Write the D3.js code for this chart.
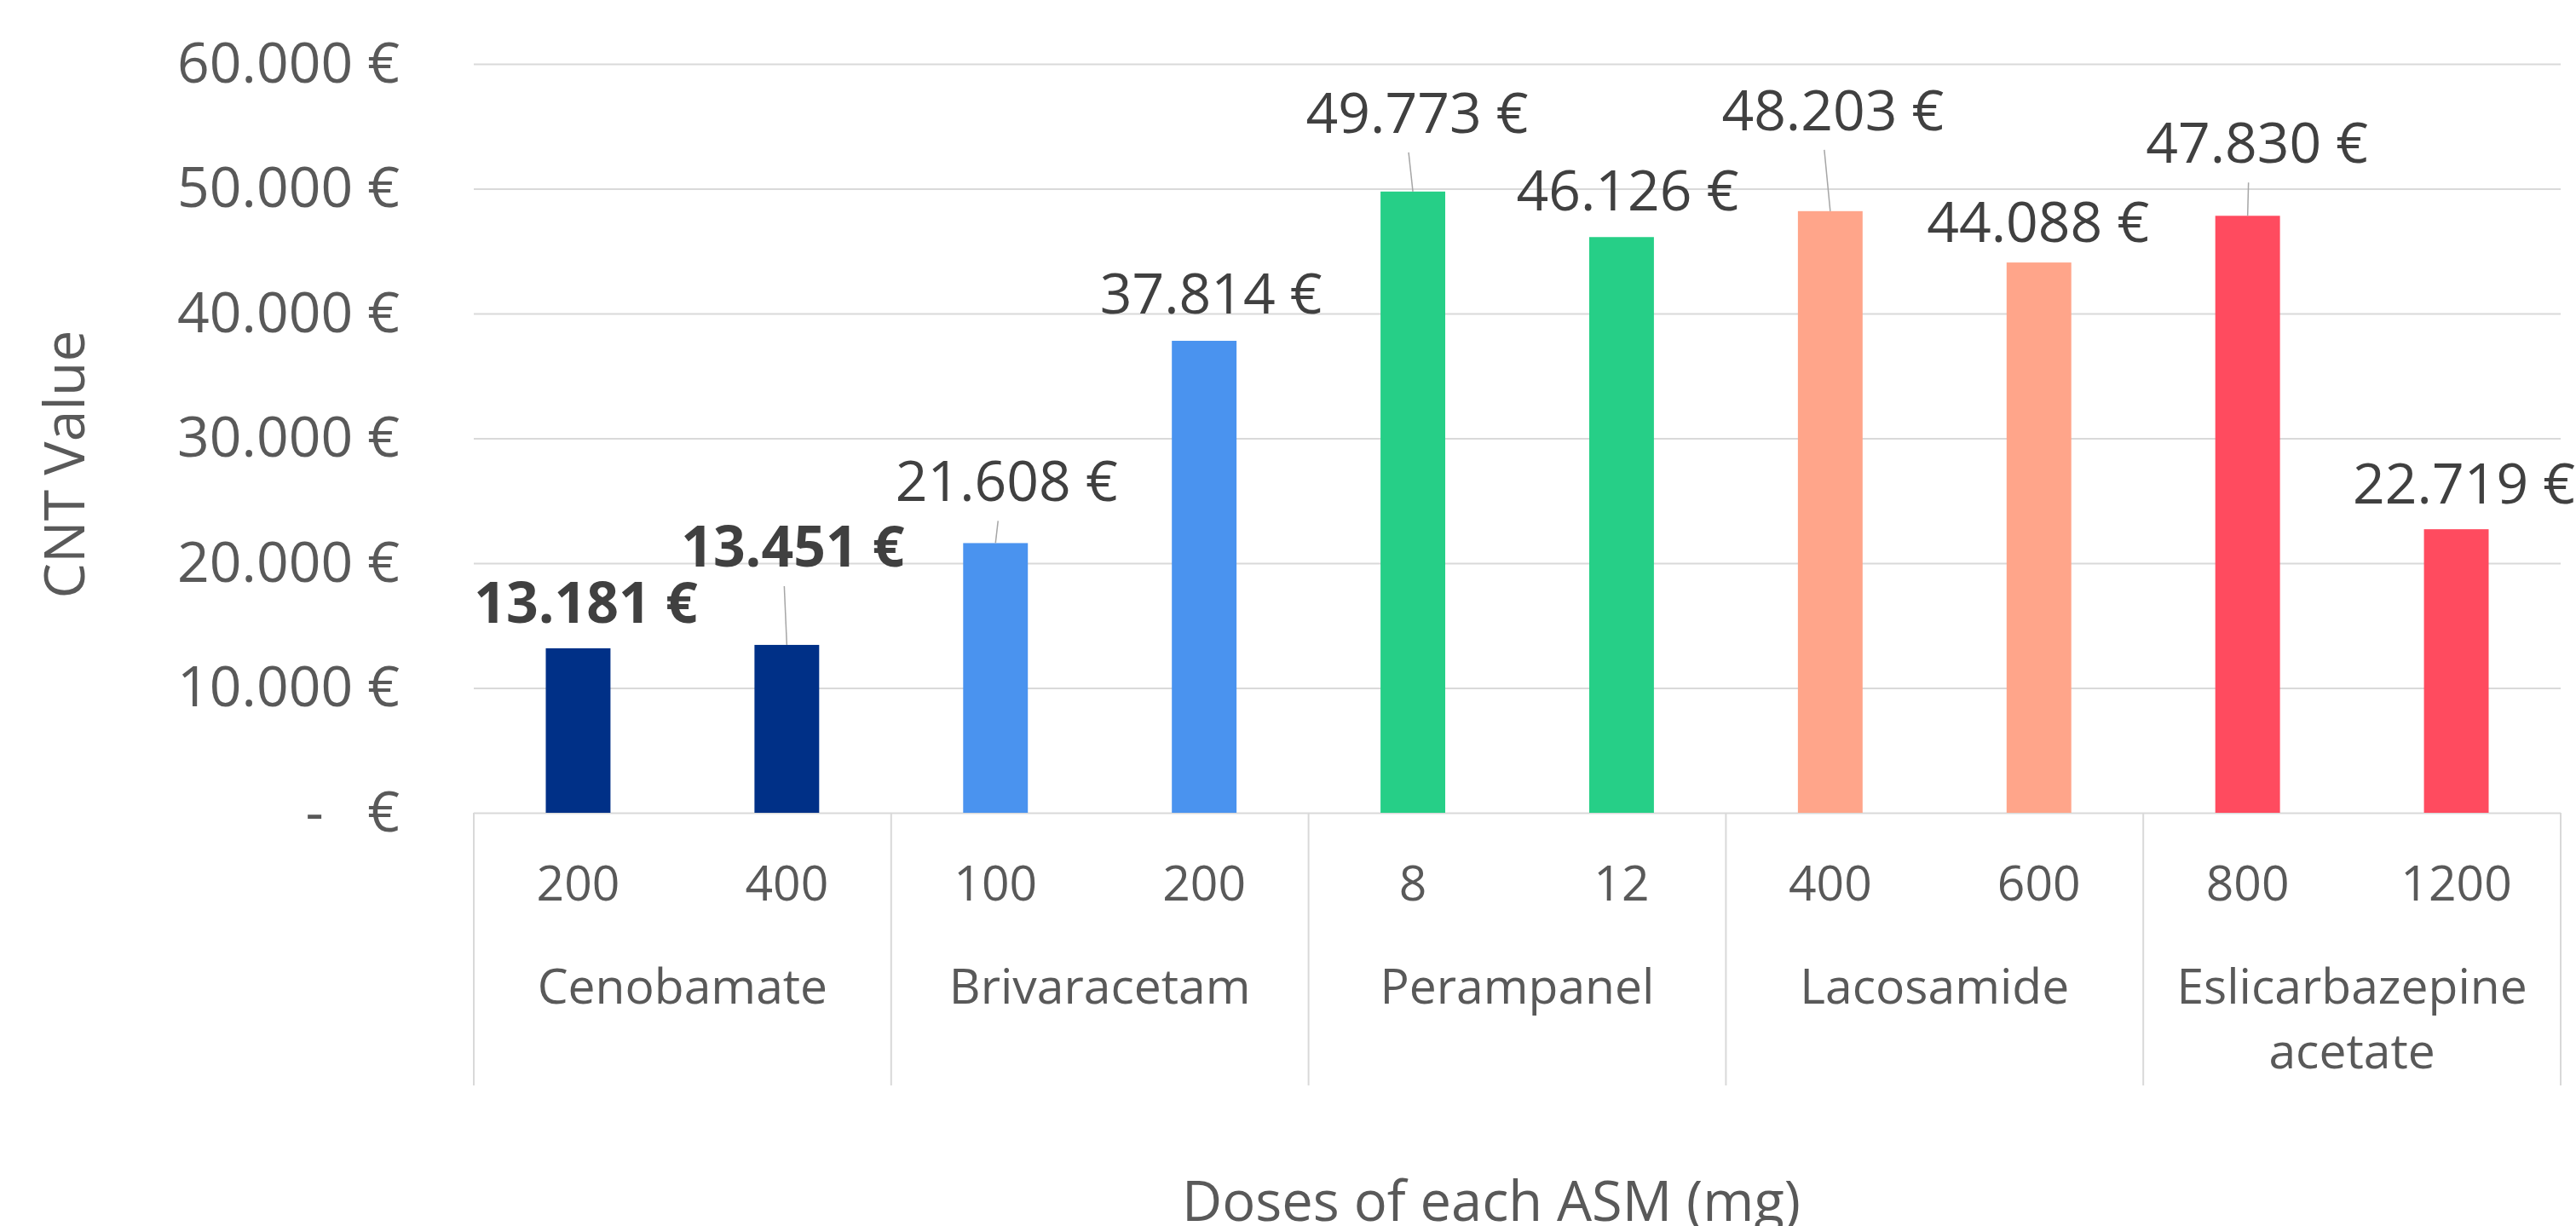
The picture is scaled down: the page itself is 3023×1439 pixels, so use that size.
<!DOCTYPE html>
<html>
<head>
<meta charset="utf-8">
<script src="https://cdn.jsdelivr.net/npm/d3@7"></script>
<style>
  body { margin: 0; background: #fff; }
  text { font-family: "Open Sans", sans-serif; }
</style>
</head>
<body>
<div id="chartContainer"></div>
<script>
// data
const drugs = ["Cenobamate", "Brivaracetam", "Perampanel", "Lacosamide", "Eslicarbazepine acetate"];
const doses = [["200", "400"], ["100", "200"], ["8", "12"], ["400", "600"], ["800", "1200"]];
const costs = [[13181, 13451], [21608, 37814], [49773, 46126], [48203, 44088], [47830, 22719]];
const yTicks = [0, 10000, 20000, 30000, 40000, 50000, 60000];

const drugColors = ["#003087", "#4A93EF", "#26CF87", "#FFA58A", "#FF4B5F"];

// labels that were dragged by hand in the original (dx, dy from default spot)
const labelShift = [[2, 0], [0, -62], [6, -19], [1, -2], [-2, -39], [0, -1], [-4, -65], [-8, 6], [4, -32], [2, 0]];

const width = 3023,
  height = 1439,
  margin = { left: 556, right: 18, top: 75, bottom: 485 };

const plotW = width - margin.left - margin.right,
  plotH = height - margin.top - margin.bottom;

// flatten into one row per bar
const bars = [];
drugs.forEach((drug, i) => {
  doses[i].forEach((dose, j) => {
    bars.push({ key: i + "-" + j, drug: drug, drugIndex: i, dose: dose, cost: costs[i][j] });
  });
});

const euro = d3.formatLocale({
  decimal: ",",
  thousands: ".",
  grouping: [3],
  currency: ["", " €"],
});
const fmtEuro = euro.format("$,.0f");

const x = d3
  .scaleBand()
  .domain(bars.map((d) => d.key))
  .range([0, plotW])
  .paddingInner(0.69)
  .paddingOuter(0.345);

const y = d3.scaleLinear().domain([0, 60000]).range([plotH, 0]);

const svg = d3
  .select("#chartContainer")
  .append("svg")
  .attr("width", width)
  .attr("height", height);

const g = svg.append("g").attr("transform", `translate(${margin.left},${margin.top})`);

// gridlines
g.append("g")
  .attr("class", "grid")
  .call(d3.axisLeft(y).tickValues(yTicks).tickSize(-plotW).tickFormat(""))
  .call((s) => s.select(".domain").remove())
  .call((s) => s.selectAll("line").attr("stroke", "#d9d9d9").attr("stroke-width", 2));

// y tick labels
g.append("g")
  .call(
    d3
      .axisLeft(y)
      .tickValues(yTicks)
      .tickSize(0)
      .tickPadding(87)
      .tickFormat((d) => (d === 0 ? "-   €" : fmtEuro(d)))
  )
  .call((s) => s.select(".domain").remove())
  .call((s) =>
    s
      .selectAll("text")
      .attr("font-size", 66)
      .attr("fill", "#595959")
      .style("font-family", '"Open Sans", sans-serif')
      .style("white-space", "pre")
  );

// bars
g.selectAll(".bar")
  .data(bars)
  .enter()
  .append("rect")
  .attr("class", "bar")
  .attr("x", (d) => x(d.key))
  .attr("width", x.bandwidth())
  .attr("y", (d) => y(d.cost))
  .attr("height", (d) => plotH - y(d.cost))
  .attr("fill", (d) => drugColors[d.drugIndex]);

// value labels + leader lines for the moved ones
const cx = (d) => x(d.key) + x.bandwidth() / 2;

bars.forEach((d, i) => {
  const lx = cx(d) + 7 + labelShift[i][0];
  const ly = y(d.cost) - 30 + labelShift[i][1];

  if (labelShift[i][1] < -10) {
    g.append("line")
      .attr("x1", lx - 10)
      .attr("y1", ly + 23)
      .attr("x2", cx(d))
      .attr("y2", y(d.cost))
      .attr("stroke", "#a6a6a6")
      .attr("stroke-width", 1.5);
  }

  g.append("text")
    .attr("x", lx)
    .attr("y", ly)
    .attr("text-anchor", "middle")
    .attr("font-size", 66)
    .attr("font-weight", d.drugIndex === 0 ? 700 : 400)
    .attr("fill", "#404040")
    .text(fmtEuro(d.cost));
});

// x axis: dose row and drug row, with separators
const axisG = g.append("g").attr("transform", `translate(0,${plotH})`);

const groupW = plotW / drugs.length;

d3.range(drugs.length + 1).forEach((i) => {
  axisG
    .append("line")
    .attr("x1", i * groupW)
    .attr("x2", i * groupW)
    .attr("y1", 0)
    .attr("y2", 320)
    .attr("stroke", "#d9d9d9")
    .attr("stroke-width", 2);
});

axisG
  .selectAll(".doseLabel")
  .data(bars)
  .enter()
  .append("text")
  .attr("class", "doseLabel")
  .attr("x", (d) => cx(d))
  .attr("y", 103)
  .attr("text-anchor", "middle")
  .attr("font-size", 57)
  .attr("fill", "#595959")
  .text((d) => d.dose);

const drugLabels = axisG
  .selectAll(".drugLabel")
  .data(drugs)
  .enter()
  .append("text")
  .attr("class", "drugLabel")
  .attr("x", (d, i) => (i + 0.5) * groupW)
  .attr("y", 224)
  .attr("text-anchor", "middle")
  .attr("font-size", 57)
  .attr("fill", "#595959")
  .text((d) => d);

// wrap names that do not fit in their group
drugLabels.each(function (d, i) {
  const t = d3.select(this);
  if (this.getComputedTextLength() < groupW - 40) return;
  const words = d.split(" ");
  t.text(null);
  words.forEach((w, k) => {
    t.append("tspan")
      .attr("x", (i + 0.5) * groupW)
      .attr("dy", k === 0 ? 0 : 76)
      .text(w);
  });
});

// axis titles
svg
  .append("text")
  .attr("transform", "translate(99,545) rotate(-90)")
  .attr("text-anchor", "middle")
  .attr("font-size", 66)
  .attr("fill", "#595959")
  .text("CNT Value");

svg
  .append("text")
  .attr("x", 1750)
  .attr("y", 1433)
  .attr("text-anchor", "middle")
  .attr("font-size", 65)
  .attr("fill", "#595959")
  .text("Doses of each ASM (mg)");
</script>
</body>
</html>
